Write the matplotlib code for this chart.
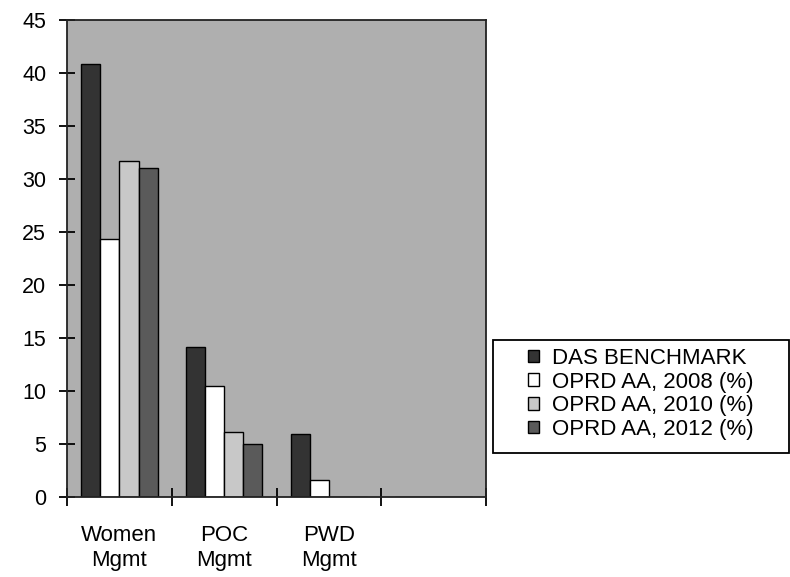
import numpy as np
import matplotlib.pyplot as plt
from matplotlib.patches import Rectangle

plt.rcParams['font.family'] = ['Liberation Sans', 'DejaVu Sans']

categories = ['Women\nMgmt', 'POC\nMgmt', 'PWD\nMgmt', '']
series = ['DAS BENCHMARK', 'OPRD AA, 2008 (%)', 'OPRD AA, 2010 (%)', 'OPRD AA, 2012 (%)']
benchmark = [40.9, 14.1, 5.9, 0]
aa_2008 = [24.3, 10.5, 1.6, 0]
aa_2010 = [31.7, 6.1, 0, 0]
aa_2012 = [31.0, 5.0, 0, 0]
y_ticks = [0, 5, 10, 15, 20, 25, 30, 35, 40, 45]

colors = ['#333333', '#ffffff', '#c8c8c8', '#5a5a5a']

fig = plt.figure(figsize=(7.9, 5.77), dpi=100)
ax = fig.add_axes([0.0848, 0.139, 0.5304, 0.826])
ax.set_facecolor('#afafaf')

x = np.arange(len(categories))
width = 0.183
for i, (name, vals) in enumerate(zip(series, [benchmark, aa_2008, aa_2010, aa_2012])):
    ax.bar(x + (i - 1.5) * width, vals, width, color=colors[i],
           edgecolor='black', linewidth=1.0, label=name)

ax.set_xlim(-0.5, len(categories) - 0.5)
ax.set_ylim(0, 45)
ax.set_yticks(y_ticks)
ax.tick_params(axis='y', labelsize=15.5, direction='inout', length=12, width=1.3, pad=9)

# ticks between categories, labels centred under each group
ax.set_xticks(np.arange(len(categories) + 1) - 0.5)
ax.set_xticklabels([])
ax.set_xticks(x, minor=True)
ax.set_xticklabels(categories, minor=True, fontsize=16, linespacing=1.3)
ax.tick_params(axis='x', which='major', direction='inout', length=13, width=1.3)
ax.tick_params(axis='x', which='minor', length=0, pad=20)

for s in ax.spines.values():
    s.set_linewidth(1.3)
    s.set_color('#222222')

# legend box sits right of the plot, legend entries inset inside it
fig.patches.append(Rectangle((0.624, 0.215), 0.375, 0.196, transform=fig.transFigure,
                             facecolor='white', edgecolor='black', linewidth=1.3))
leg = fig.legend(loc='upper left', bbox_to_anchor=(0.668, 0.397), fontsize=16,
                 frameon=False, borderpad=0, borderaxespad=0,
                 handlelength=0.5, handleheight=0.5, handletextpad=0.6,
                 labelspacing=0.12)

fig.savefig('out.png', dpi=100)
